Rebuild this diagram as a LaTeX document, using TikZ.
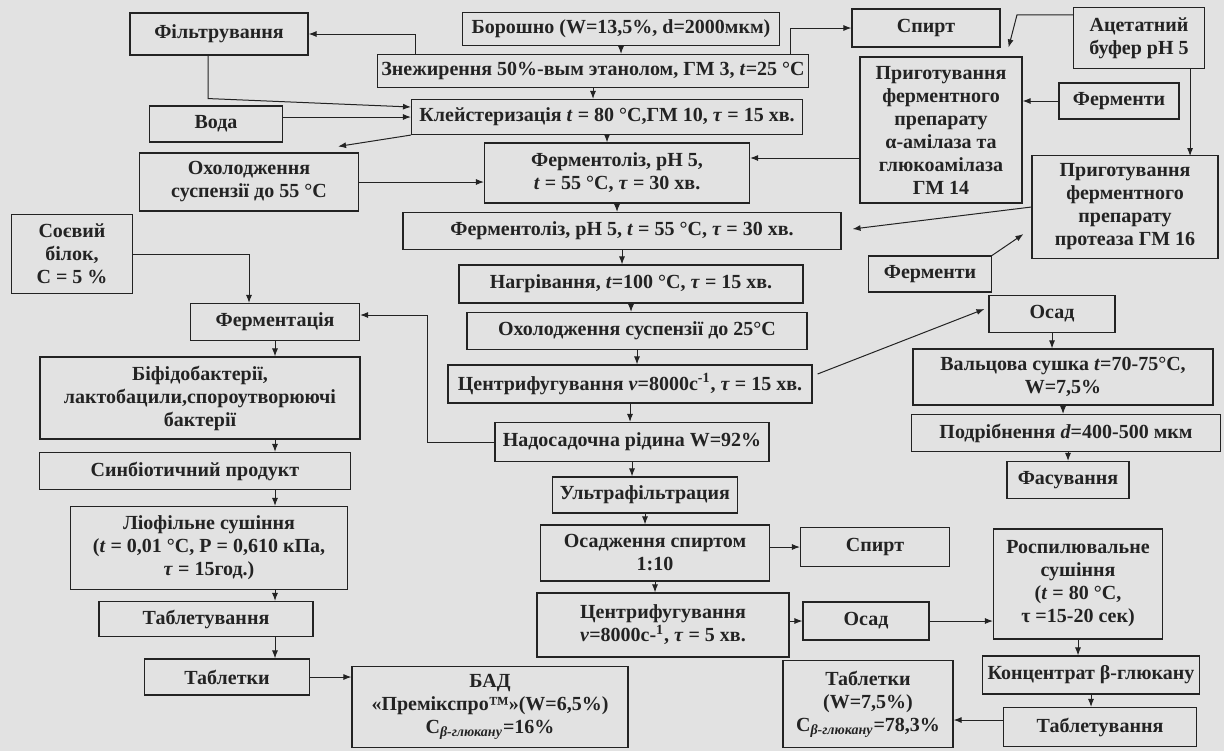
\documentclass[tikz,border=0pt]{standalone}
\usepackage{fontspec}
\setmainfont{Liberation Serif}
\usepackage{tikz}
\usetikzlibrary{calc,arrows.meta}
\definecolor{paper}{RGB}{226,226,226}
\definecolor{ink}{RGB}{35,35,35}

\begin{document}
\begin{tikzpicture}[x=0.5pt,y=-0.5pt,
  box/.style = {draw=ink, fill=paper, line width=0.55pt, align=center, inner sep=1pt,
                text=ink, font=\bfseries\fontsize{10}{11.5}\selectfont},
  wh/.style 2 args = {minimum width=#1*0.5pt, minimum height=#2*0.5pt},
  arr/.style = {draw=ink, line width=0.5pt, -{Latex[length=4pt,width=3pt]}}
]
\fill[paper] (0,0) rectangle (1224,751);
\useasboundingbox (0,0) rectangle (1224,751);

% main column
\node[box, wh={317}{33}] (boroshno) at (621,29) {Борошно (W=13,5\%, d=2000мкм)};
\node[box, wh={431}{33}] (znezh) at (593,71) {Знежирення 50\%-вым этанолом, ГМ 3, \textit{t}=25 °C};
\node[box, wh={391}{35}] (klei) at (607,117) {Клейстеризація \textit{t} = 80 °C,ГМ 10, \textit{τ} = 15 хв.};
\node[box, wh={265}{60}] (ferm1) at (617,173) {Ферментоліз, pH 5,\\\textit{t} = 55 °C, \textit{τ} = 30 хв.};
\node[box, wh={438}{37}] (ferm2) at (622,231) {Ферментоліз, pH 5, \textit{t} = 55 °C, \textit{τ} = 30 хв.};
\node[box, wh={344}{38}] (nagr) at (631,284) {Нагрівання, \textit{t}=100 °C, \textit{τ} = 15 хв.};
\node[box, wh={340}{37}] (ohol25) at (637,331) {Охолодження суспензії до 25°C};
\node[box, wh={364}{38}] (centr1) at (630,384) {Центрифугування \textit{ν}=8000c\textsuperscript{-1}, \textit{τ} = 15 хв.};
\node[box, wh={274}{39}] (nados) at (632,442) {Надосадочна рідина W=92\%};
\node[box, wh={185}{36}] (ultra) at (645,495) {Ультрафільтрация};
\node[box, wh={229}{56}] (osadzh) at (655,553) {Осадження спиртом\\1:10};
\node[box, wh={252}{64}] (centr2) at (663,625) {Центрифугування\\\textit{ν}=8000c-\textsuperscript{1}, \textit{τ} = 5 хв.};
\node[box, wh={276}{81}] (bad) at (490,707) {БАД\\«Премікспро™»(W=6,5\%)\\C\textsubscript{\textit{β-глюкану}}=16\%};

% left side
\node[box, wh={178}{42}] (filtr) at (219,34) {Фільтрування};
\node[box, wh={133}{36}] (voda) at (216,124) {Вода};
\node[box, wh={219}{58}] (ohol55) at (249,182) {Охолодження\\суспензії до 55 °C};
\node[box, wh={121}{79}] (soy) at (72,254) {Соєвий\\білок,\\С = 5 \%};
\node[box, wh={169}{37}] (fermentation) at (275,322) {Ферментація};
\node[box, wh={320}{82}] (bifido) at (200,398) {Біфідобактерії,\\лактобацили,спороутворюючі\\бактерії};
\node[box, wh={311}{37}] (synbio) at (195,471) {Синбіотичний продукт};
\node[box, wh={277}{83}] (liof) at (209,548) {Ліофільне сушіння\\(\textit{t} = 0,01 °C, P = 0,610 кПа,\\\textit{τ} = 15год.)};
\node[box, wh={214}{35}] (tabl1) at (206,619) {Таблетування};
\node[box, wh={165}{36}] (tabletky1) at (227,677) {Таблетки};

% right side
\node[box, wh={148}{38}] (spyrt1) at (926,28) {Спирт};
\node[box, wh={131}{61}] (acet) at (1139,38) {Ацетатний\\буфер pH 5};
\node[box, wh={162}{146}] (gm14) at (941,130) {Приготування\\ферментного\\препарату\\α-амілаза та\\глюкоамілаза\\ГМ 14};
\node[box, wh={120}{36}] (fermA) at (1119,101) {Ферменти};
\node[box, wh={186}{103}] (prot) at (1125,207) {Приготування\\ферментного\\препарату\\протеаза ГМ 16};
\node[box, wh={123}{36}] (fermB) at (930,274) {Ферменти};
\node[box, wh={126}{37}] (osad1) at (1052,314) {Осад};
\node[box, wh={300}{56}] (valc) at (1063,377) {Вальцова сушка \textit{t}=70-75°C,\\W=7,5\%};
\node[box, wh={309}{37}] (podr) at (1066,433) {Подрібнення \textit{d}=400-500 мкм};
\node[box, wh={122}{37}] (fasuv) at (1068,480) {Фасування};
\node[box, wh={149}{39}] (spyrt2) at (875,547) {Спирт};
\node[box, wh={126}{38}] (osad2) at (866,621) {Осад};
\node[box, wh={169}{110}] (raspyl) at (1078,584) {Роспилювальне\\сушіння\\(\textit{t} = 80 °C,\\τ =15-20 сек)};
\node[box, wh={217}{38}] (konc) at (1091,675) {Концентрат β-глюкану};
\node[box, wh={193}{39}] (tabl2) at (1100,727) {Таблетування};
\node[box, wh={170}{87}] (tabletky2) at (868,704) {Таблетки\\(W=7,5\%)\\C\textsubscript{\textit{β-глюкану}}=78,3\%};

% main flow
\draw[arr] (boroshno.south) -- (boroshno.south |- znezh.north);
\draw[arr] (znezh.south) -- (znezh.south |- klei.north);
\draw[arr] (klei.south) -- (klei.south |- ferm1.north);
\draw[arr] (ferm1.south) -- (ferm1.south |- ferm2.north);
\draw[arr] (ferm2.south) -- (ferm2.south |- nagr.north);
\draw[arr] (nagr.south) -- (nagr.south |- ohol25.north);
\draw[arr] (ohol25.south) -- (ohol25.south |- centr1.north);
\draw[arr] (centr1.south) -- (centr1.south |- nados.north);
\draw[arr] (nados.south) -- (nados.south |- ultra.north);
\draw[arr] (ultra.south) -- (ultra.south |- osadzh.north);
\draw[arr] (osadzh.south) -- (osadzh.south |- centr2.north);

% side flows, top
\draw[arr] ($(znezh.north west)+(39,0)$) |- (filtr.east);
\draw[arr] ($(znezh.north east)+(-19,0)$) |- (spyrt1.west);
\draw[arr] ($(filtr.south)+(-11,0)$) -- ++(0,43) -- ($(klei.west)+(0,-10)$);
\draw[arr] (voda.east |- klei.west) -- (klei.west);
\draw[arr] (klei.south west) -- ($(ohol55.north east)+(-21,-6)$);
\draw[arr] (ohol55.east) -- (ohol55.east -| ferm1.west);
\draw[arr] ($(acet.north west)+(0,8)$) -- ++(-56,0) -- ($(gm14.north east)+(-14,-9)$);
\draw[arr] ($(acet.south east)+(-15,0)$) -- ++(0,87);
\draw[arr] (fermA.west) -- (fermA.west -| gm14.east);
\draw[arr] ($(gm14.west)+(0,28)$) -- ($(gm14.west -| ferm1.east)+(0,28)$);
\draw[arr] (prot.west) -- ($(ferm2.east)+(11,-2)$);
\draw[arr] (fermB.north east) -- ($(prot.south west)+(-8,-25)$);

% sediment branch
\draw[arr] ($(centr1.east)+(5,-10)$) -- ($(osad1.west)+(-4,-5)$);
\draw[arr] (osad1.south) -- (osad1.south |- valc.north);
\draw[arr] (valc.south) -- (valc.south |- podr.north);
\draw[arr] (podr.south -| fasuv) -- (fasuv.north);

% left branch
\draw[arr] (nados.west) -- ++(-67,0) |- ($(fermentation.east)+(0,-7)$);
\draw[arr] (soy.east) -| ($(fermentation.north)+(-26,0)$);
\draw[arr] (fermentation.south) -- (fermentation.south |- bifido.north);
\draw[arr] (bifido.south -| fermentation) -- (synbio.north -| fermentation);
\draw[arr] (synbio.south -| fermentation) -- (liof.north -| fermentation);
\draw[arr] (liof.south -| fermentation) -- (tabl1.north -| fermentation);
\draw[arr] (tabl1.south -| fermentation) -- (tabletky1.north -| fermentation);
\draw[arr] (tabletky1.east) -- (tabletky1.east -| bad.west);

% bottom right
\draw[arr] (osadzh.east |- spyrt2) -- (spyrt2.west);
\draw[arr] (centr2.east |- osad2) -- (osad2.west);
\draw[arr] (osad2.east) -- (osad2.east -| raspyl.west);
\draw[arr] (raspyl.south) -- (raspyl.south |- konc.north);
\draw[arr] (konc.south) -- (konc.south |- tabl2.north);
\draw[arr] ($(tabl2.west)+(0,-7)$) -- ($(tabl2.west -| tabletky2.east)+(0,-7)$);
\end{tikzpicture}
\end{document}
